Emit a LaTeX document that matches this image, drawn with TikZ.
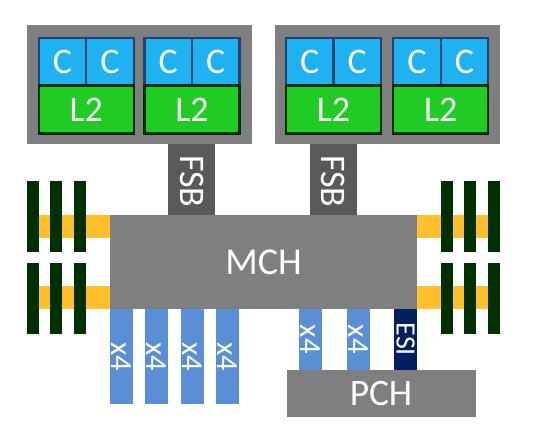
\documentclass[tikz,border=0pt]{standalone}
\usepackage{fontspec}
\setmainfont{Carlito}
\definecolor{pkggray}{HTML}{7F7F7F}
\definecolor{fsbgray}{HTML}{595959}
\definecolor{corefill}{HTML}{1FB1F0}
\definecolor{coreline}{HTML}{1F4470}
\definecolor{cachefill}{HTML}{20CC24}
\definecolor{dimmgreen}{HTML}{002F00}
\definecolor{memyellow}{HTML}{FFC02B}
\definecolor{lanefill}{HTML}{5B8FD5}
\definecolor{esifill}{HTML}{002060}
\tikzset{
  box/.style={rectangle,inner sep=0pt,outer sep=0pt,text=white},
  cpkg/.style={box,fill=pkggray,minimum width=168.75pt,minimum height=88.9pt},
  corecell/.style={box,fill=corefill,draw=coreline,line width=1.7pt,minimum width=35.6pt,minimum height=35.4pt,font=\fontsize{27}{27}\selectfont},
  cachecell/.style={box,fill=cachefill,draw=dimmgreen,line width=1.7pt,minimum width=71.3pt,minimum height=36pt,font=\fontsize{27}{27}\selectfont},
  fsbbar/.style={box,fill=fsbgray,minimum width=35pt,minimum height=53.25pt,font=\fontsize{27}{27}\selectfont},
  membar/.style={box,fill=memyellow,minimum width=53.25pt,minimum height=17.25pt},
  dimm/.style={box,fill=dimmgreen,minimum width=9pt,minimum height=53.25pt},
  lane/.style={box,fill=lanefill,minimum width=17.6pt,font=\fontsize{23}{23}\selectfont},
}
\begin{document}
\begin{tikzpicture}[x=0.75pt,y=0.75pt,yscale=-1,xscale=1]
\useasboundingbox (0,0) rectangle (548,438);
% processors
\node [cpkg] (pkgL) at (139,84.75) {};
\node [cpkg] (pkgR) at (387.25,84.75) {};
\node [corecell] (c1) at (62.5,61.75) {C};
\node [corecell] (c2) at (110,61.75) {C};
\node [corecell] (c3) at (168.25,61.75) {C};
\node [corecell] (c4) at (215.75,61.75) {C};
\node [corecell] (c5) at (309.75,61.75) {C};
\node [corecell] (c6) at (357.25,61.75) {C};
\node [corecell] (c7) at (417,61.75) {C};
\node [corecell] (c8) at (464.5,61.75) {C};
\node [cachecell] (l1) at (86.25,109.5) {L2};
\node [cachecell] (l2) at (192,109.5) {L2};
\node [cachecell] (l3) at (333.5,109.5) {L2};
\node [cachecell] (l4) at (440.75,109.5) {L2};
% front side bus
\node [fsbbar] (fsbL) at (191.75,179.5) {\rotatebox{-90}{\hspace{3pt}FSB}};
\node [fsbbar] (fsbR) at (333.5,179.5) {\rotatebox{-90}{\hspace{3pt}FSB}};
% memory channels
\node [membar] (memLa) at (74.5,226.5) {};
\node [membar] (memLb) at (74.5,297.5) {};
\node [membar] (memRa) at (452.5,226.5) {};
\node [membar] (memRb) at (452.5,297.5) {};
\node [dimm] (dLa1) at (32.75,216) {};
\node [dimm] (dLa2) at (56.25,216) {};
\node [dimm] (dLa3) at (80,216) {};
\node [dimm] (dLb1) at (32.75,298) {};
\node [dimm] (dLb2) at (56.25,298) {};
\node [dimm] (dLb3) at (80,298) {};
\node [dimm] (dRa1) at (446.5,216) {};
\node [dimm] (dRa2) at (470,216) {};
\node [dimm] (dRa3) at (493.75,216) {};
\node [dimm] (dRb1) at (446.5,298) {};
\node [dimm] (dRb2) at (470,298) {};
\node [dimm] (dRb3) at (493.75,298) {};
% hub
\node [box,fill=pkggray,minimum width=230.25pt,minimum height=70.5pt,font=\fontsize{28.5}{28.5}\selectfont] (mch) at (263.5,262) {MCH};
% lanes
\node [lane,minimum height=71.25pt] (x1) at (121.75,356.5) {\rotatebox{-90}{x4}};
\node [lane,minimum height=71.25pt] (x2) at (156.25,356.5) {\rotatebox{-90}{x4}};
\node [lane,minimum height=71.25pt] (x3) at (192.5,356.5) {\rotatebox{-90}{x4}};
\node [lane,minimum height=71.25pt] (x4) at (227.25,356.5) {\rotatebox{-90}{x4}};
\node [lane,minimum height=45.5pt] (x5) at (310.75,339.35) {\rotatebox{-90}{x4}};
\node [lane,minimum height=45.5pt] (x6) at (358.25,339.35) {\rotatebox{-90}{x4}};
\node [box,fill=esifill,minimum width=17.6pt,minimum height=45.5pt,font=\fontsize{21}{21}\selectfont] (esi) at (405.5,339.35) {\rotatebox{-90}{ESI}};
\node [box,fill=pkggray,minimum width=141.75pt,minimum height=35.25pt,font=\fontsize{28}{28}\selectfont] (pch) at (381,393.2) {PCH};
\end{tikzpicture}
\end{document}
